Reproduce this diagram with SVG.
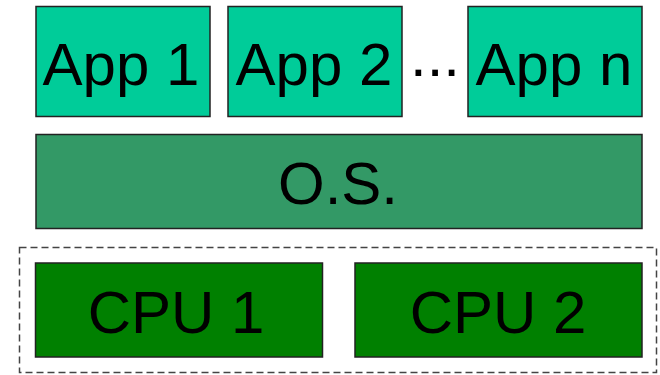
<svg xmlns="http://www.w3.org/2000/svg" width="660" height="375" viewBox="0 0 660 375">
<style>
.box{stroke:#222;stroke-width:1.5}
.app{fill:#00CC99}
.os{fill:#339966}
.cpu{fill:#008000}
.lbl{font-family:"Liberation Sans",Arial,sans-serif;font-size:60px;fill:#000;text-anchor:middle}
.group{fill:none;stroke:#444;stroke-width:1.5;stroke-dasharray:7 4}
</style>
<rect width="660" height="375" fill="#fff"/>
<g id="hardware-group"><rect class="group" x="19.5" y="247.5" width="637" height="125"/></g>
<g id="app1"><rect class="box app" x="36" y="6.5" width="174" height="110"/><text class="lbl" x="121" y="85">App 1</text></g>
<g id="app2"><rect class="box app" x="228" y="6.5" width="174" height="110"/><text class="lbl" x="314" y="85">App 2</text></g>
<g id="ellipsis"><text class="lbl" x="435" y="76">...</text></g>
<g id="appn"><rect class="box app" x="468" y="6.5" width="174" height="110"/><text class="lbl" x="554" y="85">App n</text></g>
<g id="os"><rect class="box os" x="36" y="134.5" width="606" height="94"/><text class="lbl" x="338" y="204">O.S.</text></g>
<g id="cpu1"><rect class="box cpu" x="35.5" y="263" width="287" height="94"/><text class="lbl" x="176" y="333">CPU 1</text></g>
<g id="cpu2"><rect class="box cpu" x="355" y="263" width="287" height="94"/><text class="lbl" x="498" y="333">CPU 2</text></g>
<g id="connectors"></g>
</svg>
